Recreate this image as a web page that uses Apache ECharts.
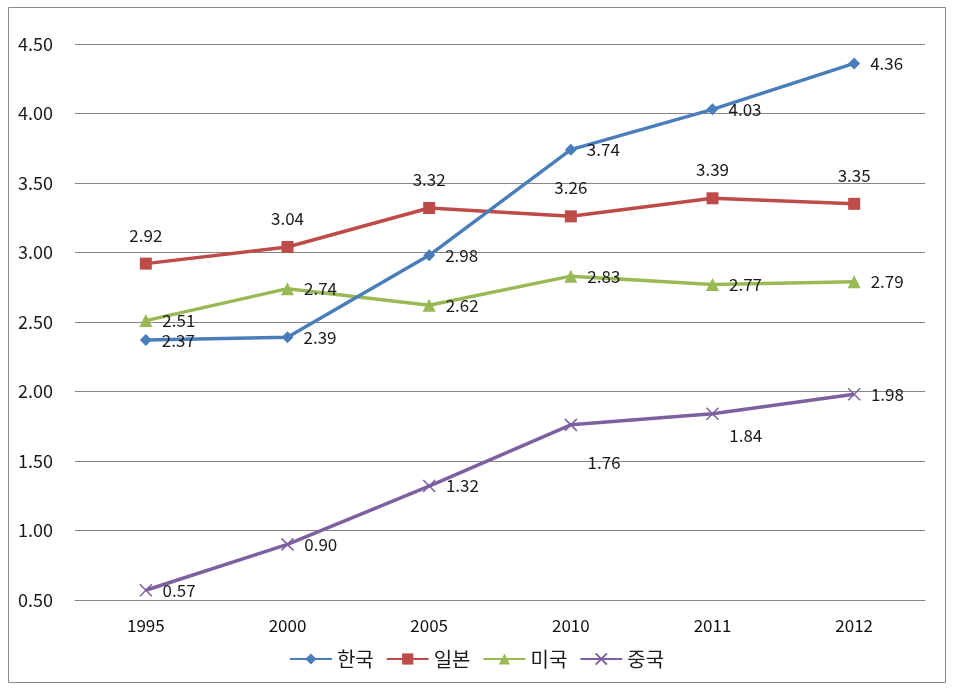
<!DOCTYPE html>
<html>
<head>
<meta charset="utf-8">
<script src="https://cdn.jsdelivr.net/npm/echarts@6/dist/echarts.min.js"></script>
<style>
html,body{margin:0;padding:0;background:#fff;}
#chart{width:953px;height:690px;}
</style>
</head>
<body>
<div id="chart"></div>
<script>
const categories = ['1995', '2000', '2005', '2010', '2011', '2012'];
const korea = [2.37, 2.39, 2.98, 3.74, 4.03, 4.36];
const japan = [2.92, 3.04, 3.32, 3.26, 3.39, 3.35];
const usa = [2.51, 2.74, 2.62, 2.83, 2.77, 2.79];
const china = [0.57, 0.90, 1.32, 1.76, 1.84, 1.98];
const seriesNames = ['한국', '일본', '미국', '중국'];
const yTicks = {min: 0.5, max: 4.5, interval: 0.5};

const FONT = '"Noto Sans CJK KR", "Noto Sans", sans-serif';
const labelBase = {show: true, fontSize: 17, color: '#1a1a1a', fontFamily: FONT, formatter: p => p.value.toFixed(2)};
const X_PATH = 'path://M0,0 L10,10 M10,0 L0,10';

const chinaOffsets = {3: [0, 38], 4: [0, 22]};

const chart = echarts.init(document.getElementById('chart'));
chart.setOption({
  backgroundColor: '#fff',
  animation: false,
  grid: {left: 75, right: 28, top: 44, bottom: 90},
  graphic: [{
    type: 'rect', shape: {x: 8.5, y: 7.5, width: 937, height: 675},
    style: {fill: 'none', stroke: '#8a8a8a', lineWidth: 1}, z: -1
  }],
  legend: {
    bottom: 16, left: 'center', itemWidth: 42, itemHeight: 14, itemGap: 12,
    textStyle: {fontSize: 20, color: '#1a1a1a', fontFamily: FONT},
    data: seriesNames
  },
  xAxis: {
    type: 'category', data: categories, boundaryGap: true,
    axisLine: {show: true, lineStyle: {color: '#868686', width: 1}},
    axisTick: {show: false},
    axisLabel: {fontSize: 17, color: '#111', fontFamily: FONT, margin: 17}
  },
  yAxis: {
    type: 'value', min: yTicks.min, max: yTicks.max, interval: yTicks.interval,
    axisLine: {show: false}, axisTick: {show: false},
    splitLine: {lineStyle: {color: '#868686', width: 1}},
    axisLabel: {fontSize: 18, color: '#1a1a1a', fontFamily: FONT, margin: 22, align: 'right',
      formatter: v => v.toFixed(2)}
  },
  series: [
    {
      name: seriesNames[0], type: 'line', data: korea, symbol: 'diamond', symbolSize: 12,
      lineStyle: {color: '#4A7EBB', width: 3.5}, itemStyle: {color: '#4A7EBB'},
      label: Object.assign({}, labelBase, {position: 'right', distance: 10}), z: 4
    },
    {
      name: seriesNames[1], type: 'line', data: japan, symbol: 'rect', symbolSize: 12,
      lineStyle: {color: '#BE4B48', width: 3.5}, itemStyle: {color: '#BE4B48'},
      label: Object.assign({}, labelBase, {position: 'top', distance: 14}), z: 3
    },
    {
      name: seriesNames[2], type: 'line', data: usa, symbol: 'triangle', symbolSize: 13,
      lineStyle: {color: '#98B954', width: 3.5}, itemStyle: {color: '#98B954'},
      label: Object.assign({}, labelBase, {position: 'right', distance: 10}), z: 2
    },
    {
      name: seriesNames[3], type: 'line',
      data: china.map((v, i) => chinaOffsets[i] ? {value: v, label: {offset: chinaOffsets[i]}} : v),
      symbol: X_PATH, symbolSize: 12,
      lineStyle: {color: '#7D60A0', width: 3.5},
      itemStyle: {color: '#7D60A0', borderColor: '#7D60A0', borderWidth: 1.5},
      label: Object.assign({}, labelBase, {position: 'right', distance: 10}), z: 1
    }
  ]
});
</script>
</body>
</html>
